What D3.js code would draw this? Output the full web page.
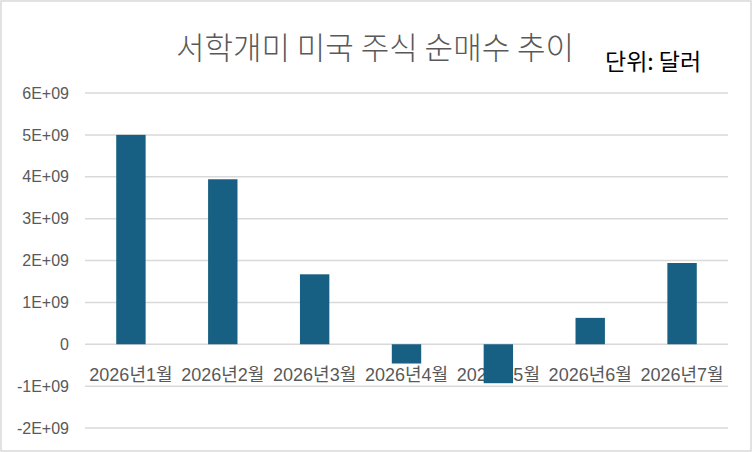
<!DOCTYPE html>
<html>
<head>
<meta charset="utf-8">
<script src="https://cdn.jsdelivr.net/npm/d3@7"></script>
<style>
  body { margin: 0; background: #fff; }
  svg { display: block; font-family: "Liberation Sans", "Noto Sans CJK KR", sans-serif; }
</style>
</head>
<body>
<script>
// Data
const months = ['2026년1월', '2026년2월', '2026년3월', '2026년4월', '2026년5월', '2026년6월', '2026년7월'];
const netBuy = [5.0e9, 3.94e9, 1.67e9, -0.46e9, -0.93e9, 0.63e9, 1.94e9];
const yTicks = [-2e9, -1e9, 0, 1e9, 2e9, 3e9, 4e9, 5e9, 6e9];
const tickLabels = ['-2E+09', '-1E+09', '0', '1E+09', '2E+09', '3E+09', '4E+09', '5E+09', '6E+09'];

const width = 752;
const height = 452;
const plot = { left: 85, right: 728, top: 93, bottom: 428 };

const svg = d3.select('body')
  .append('svg')
  .attr('width', width)
  .attr('height', height);

// Chart border
svg.append('rect')
  .attr('x', 1).attr('y', 1)
  .attr('width', width - 2).attr('height', height - 2)
  .attr('fill', '#fff')
  .attr('stroke', '#d9d9d9')
  .attr('stroke-width', 1.5);

// Scales
const xScale = d3.scaleBand()
  .domain(months)
  .range([plot.left, plot.right])
  .paddingInner(0.68)
  .paddingOuter(0.34);

const yScale = d3.scaleLinear()
  .domain([-2e9, 6e9])
  .range([plot.bottom, plot.top]);

// Gridlines
svg.append('g')
  .selectAll('line')
  .data(yTicks)
  .enter()
  .append('line')
  .attr('x1', plot.left)
  .attr('x2', plot.right)
  .attr('y1', d => yScale(d))
  .attr('y2', d => yScale(d))
  .attr('stroke', '#d9d9d9')
  .attr('stroke-width', 1.5);

// Y axis labels
const yAxis = d3.axisLeft(yScale)
  .tickValues(yTicks)
  .tickFormat((d, i) => tickLabels[i])
  .tickSize(0)
  .tickPadding(0);

const yG = svg.append('g')
  .attr('transform', 'translate(69,0)')
  .call(yAxis);
yG.select('.domain').remove();
yG.selectAll('text')
  .attr('fill', '#595959')
  .style('font-size', '16px')
  .style('font-family', '"Liberation Sans", sans-serif');

// Category labels (drawn under the bars)
const xAxis = d3.axisBottom(xScale).tickSize(0).tickPadding(0);
const xG = svg.append('g')
  .attr('transform', 'translate(0,' + (yScale(0) + 30) + ')')
  .call(xAxis);
xG.select('.domain').remove();
xG.selectAll('text')
  .attr('fill', '#595959')
  .attr('dy', '0.35em')
  .attr('y', 0)
  .style('font-size', '18px')
  .style('font-family', '"Liberation Sans", "Noto Sans CJK KR", sans-serif');

// Bars
svg.append('g')
  .selectAll('rect')
  .data(netBuy)
  .enter()
  .append('rect')
  .attr('x', (d, i) => xScale(months[i]))
  .attr('y', d => yScale(Math.max(0, d)))
  .attr('width', xScale.bandwidth())
  .attr('height', d => Math.abs(yScale(d) - yScale(0)))
  .attr('fill', '#175f83');

// Title
svg.append('text')
  .attr('x', 375)
  .attr('y', 59)
  .attr('text-anchor', 'middle')
  .attr('fill', '#595959')
  .style('font-family', '"Noto Sans CJK KR", sans-serif')
  .style('font-weight', 300)
  .style('font-size', '31px')
  .text('서학개미 미국 주식 순매수 추이');

svg.append('text')
  .attr('x', 605)
  .attr('y', 70)
  .attr('fill', '#000')
  .style('font-family', '"Noto Sans CJK KR", sans-serif')
  .style('font-size', '23px')
  .text('단위: 달러');
</script>
</body>
</html>
